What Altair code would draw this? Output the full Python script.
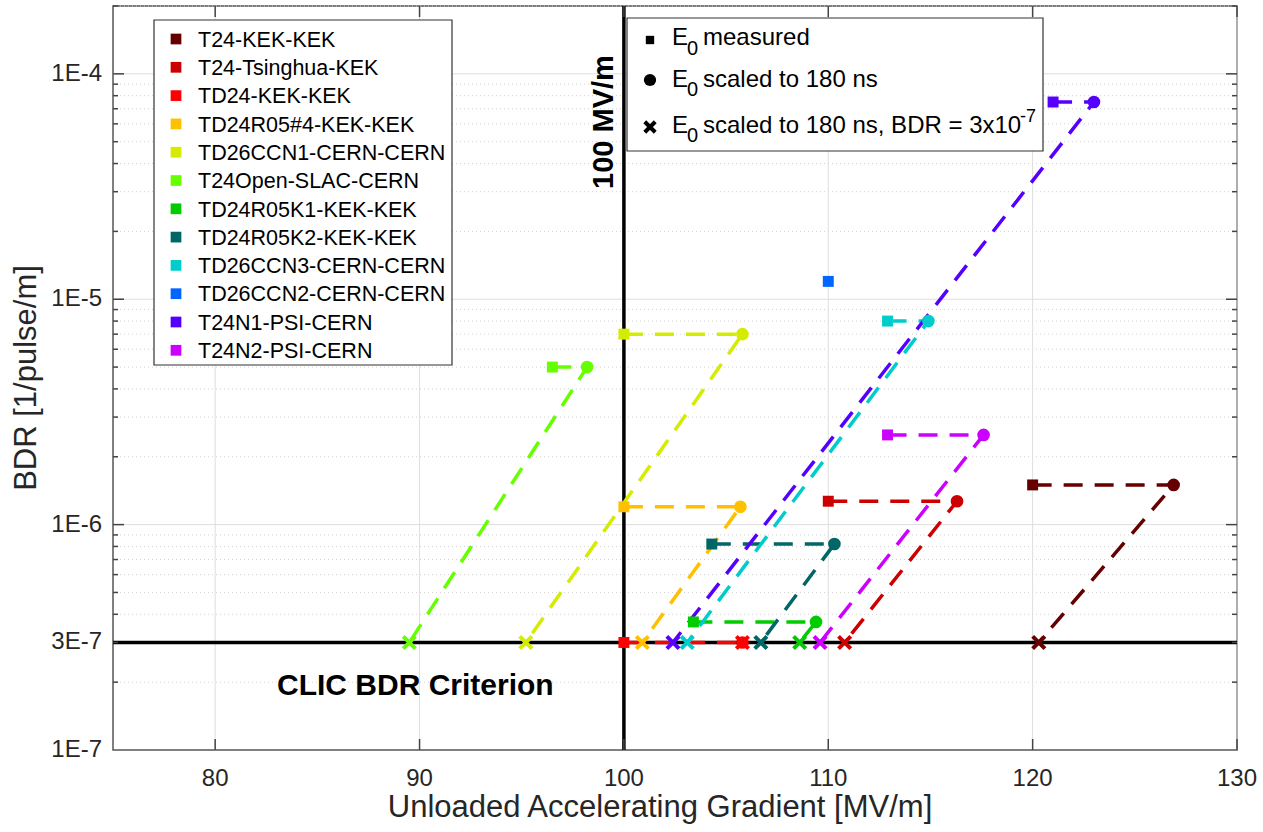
import altair as alt
import pandas as pd

# ---------------- data ----------------
series = ["T24-KEK-KEK", "T24-Tsinghua-KEK", "TD24-KEK-KEK", "TD24R05#4-KEK-KEK",
          "TD26CCN1-CERN-CERN", "T24Open-SLAC-CERN", "TD24R05K1-KEK-KEK",
          "TD24R05K2-KEK-KEK", "TD26CCN3-CERN-CERN", "TD26CCN2-CERN-CERN",
          "T24N1-PSI-CERN", "T24N2-PSI-CERN"]
colors = ["#660000", "#cc0000", "#ff0000", "#ffc000", "#d4ec00", "#66ff00",
          "#00cc00", "#006666", "#00cccc", "#0066ff", "#5500ff", "#cc00ff"]
measured_e0 = [120.0, 110.0, 100.0, 100.0, 100.0, 96.5, 103.4, 104.3, 112.9, 110.0, 121.0, 112.9]
measured_bdr = [1.5e-6, 1.27e-6, 3e-7, 1.2e-6, 7e-6, 5e-6, 3.7e-7, 8.2e-7, 8e-6, 1.2e-5, 7.5e-5, 2.5e-6]
scaled_e0 = [126.9, 116.3, 105.8, 105.7, 105.8, 98.2, 109.4, 110.3, 114.9, None, 123.0, 117.6]
criterion_e0 = [120.3, 110.8, 105.8, 100.9, 95.2, 89.5, 108.6, 106.7, 103.1, None, 102.4, 109.6]
bdr_criterion = 3e-7
gradient_ref = 100

x_ticks = [80, 90, 100, 110, 120, 130]
x_tick_labels = ["80", "90", "100", "110", "120", "130"]
y_ticks = [1e-7, 3e-7, 1e-6, 1e-5, 1e-4]
y_tick_labels = ["1E-7", "3E-7", "1E-6", "1E-5", "1E-4"]
y_major = [1e-6, 1e-5, 1e-4]
y_minor = [2e-7, 3e-7, 4e-7, 5e-7, 6e-7, 7e-7, 8e-7, 9e-7,
           2e-6, 3e-6, 4e-6, 5e-6, 6e-6, 7e-6, 8e-6, 9e-6,
           2e-5, 3e-5, 4e-5, 5e-5, 6e-5, 7e-5, 8e-5, 9e-5, 2e-4]
x_title = "Unloaded Accelerating Gradient [MV/m]"
y_title = "BDR [1/pulse/m]"

# ---------------- tables ----------------
meas_df = pd.DataFrame({"series": series, "e0": measured_e0, "bdr": measured_bdr})
scaled_rows, crit_rows, line_rows = [], [], []
for s, me, mb, se, ce in zip(series, measured_e0, measured_bdr, scaled_e0, criterion_e0):
    if se is None:
        continue
    scaled_rows.append({"series": s, "e0": se, "bdr": mb})
    crit_rows.append({"series": s, "e0": ce, "bdr": bdr_criterion})
    line_rows += [{"series": s, "e0": me, "bdr": mb, "o": 0},
                  {"series": s, "e0": se, "bdr": mb, "o": 1},
                  {"series": s, "e0": ce, "bdr": bdr_criterion, "o": 2}]
scaled_df = pd.DataFrame(scaled_rows)
crit_df = pd.DataFrame(crit_rows)
line_df = pd.DataFrame(line_rows)

W, H = 1124, 744
FONT = "Liberation Sans"
AX = "#262626"

xscale = alt.Scale(domain=[75, 130], nice=False, zero=False)
yscale = alt.Scale(type="log", domain=[1e-7, 2e-4], nice=False)
cscale = alt.Scale(domain=series, range=colors)


def X(field="e0"):
    return alt.X(f"{field}:Q", scale=xscale, axis=None)


def Y(field="bdr"):
    return alt.Y(f"{field}:Q", scale=yscale, axis=None)


def C():
    return alt.Color("series:N", scale=cscale, legend=None)


one = pd.DataFrame({"a": [0]})
xt_df = pd.DataFrame({"e0": x_ticks, "label": x_tick_labels})
yt_df = pd.DataFrame({"bdr": y_ticks, "label": y_tick_labels})
ymaj_df = pd.DataFrame({"bdr": y_major})
ymin_df = pd.DataFrame({"bdr": y_minor})

# grid
minor_grid = alt.Chart(ymin_df).mark_rule(color="#d0d0d0", strokeWidth=1, strokeDash=[1, 3]).encode(y=Y())
major_grid = alt.Chart(ymaj_df).mark_rule(color="#dedede", strokeWidth=1).encode(y=Y())
x_grid = alt.Chart(xt_df).mark_rule(color="#dedede", strokeWidth=1).encode(x=X())

# inner ticks (MATLAB style)
tc = "#444444"
ticks = [
    alt.Chart(ymaj_df).mark_rule(color=tc, strokeWidth=1.5).encode(y=Y(), x=alt.value(0), x2=alt.value(11)),
    alt.Chart(ymaj_df).mark_rule(color=tc, strokeWidth=1.5).encode(y=Y(), x=alt.value(W - 11), x2=alt.value(W)),
    alt.Chart(ymin_df).mark_rule(color=tc, strokeWidth=1.5).encode(y=Y(), x=alt.value(0), x2=alt.value(5)),
    alt.Chart(ymin_df).mark_rule(color=tc, strokeWidth=1.5).encode(y=Y(), x=alt.value(W - 5), x2=alt.value(W)),
    alt.Chart(xt_df).mark_rule(color=tc, strokeWidth=1.5).encode(x=X(), y=alt.value(H - 11), y2=alt.value(H)),
    alt.Chart(xt_df).mark_rule(color=tc, strokeWidth=1.5).encode(x=X(), y=alt.value(0), y2=alt.value(11)),
]

# axis labels and titles (drawn through the scales)
y_labels = alt.Chart(yt_df).mark_text(font=FONT, fontSize=24, color=AX, align="right",
                                      baseline="middle").encode(
    y=Y(), x=alt.value(-11), text="label:N")
x_labels = alt.Chart(xt_df).mark_text(font=FONT, fontSize=24, color=AX, align="center",
                                      baseline="alphabetic").encode(
    x=X(), y=alt.value(H + 36), text="label:N")
x_title_mark = alt.Chart(one).mark_text(text=x_title, font=FONT, fontSize=31, color=AX,
                                        align="center", baseline="alphabetic").encode(
    x=alt.value(547), y=alt.value(H + 67))
y_title_mark = alt.Chart(one).mark_text(text=y_title, font=FONT, fontSize=31, color=AX, angle=270,
                                        align="center", baseline="middle").encode(
    x=alt.value(-86), y=alt.value(H / 2))

# legend boxes
box1 = alt.Chart(one).mark_rect(fill="white", stroke="#333333", strokeWidth=1.2).encode(
    x=alt.value(41), x2=alt.value(339), y=alt.value(14), y2=alt.value(359))
box2 = alt.Chart(one).mark_rect(fill="white", stroke="#333333", strokeWidth=1.2).encode(
    x=alt.value(514), x2=alt.value(930), y=alt.value(12), y2=alt.value(145))

# reference lines
vref = alt.Chart(pd.DataFrame({"e0": [gradient_ref]})).mark_rule(color="black", strokeWidth=3.5).encode(x=X())
href = alt.Chart(pd.DataFrame({"bdr": [bdr_criterion]})).mark_rule(color="black", strokeWidth=3.5).encode(y=Y())

# data
lines = alt.Chart(line_df).mark_line(strokeWidth=3.5, strokeDash=[19, 12]).encode(
    x=X(), y=Y(), detail="series:N", order="o:Q", color=C())
squares = alt.Chart(meas_df).mark_point(shape="square", filled=True, size=120, opacity=1).encode(
    x=X(), y=Y(), color=C())
circles = alt.Chart(scaled_df).mark_circle(size=160, opacity=1).encode(
    x=X(), y=Y(), color=C())
XPATH = "M-1,-1L1,1M1,-1L-1,1"
crosses = alt.Chart(crit_df).mark_point(shape=XPATH, filled=False, size=150, strokeWidth=4,
                                        opacity=1).encode(x=X(), y=Y(), color=C())


def txt(s, x, y, size=24, weight="normal", angle=0, align="left", baseline="alphabetic",
        color="black"):
    return alt.Chart(one).mark_text(text=s, font=FONT, fontSize=size, fontWeight=weight,
                                    angle=angle, align=align, baseline=baseline,
                                    color=color).encode(x=alt.value(x), y=alt.value(y))


# legend 1 (series)
legend1 = []
for i, (s, c) in enumerate(zip(series, colors)):
    cy = 33 + i * 28.3
    legend1.append(alt.Chart(one).mark_point(shape="square", filled=True, size=115, color=c,
                                             opacity=1).encode(x=alt.value(63), y=alt.value(cy)))
    legend1.append(txt(s, 85, cy + 7.7, size=21.5))

# legend 2 (marker meaning)
lg_sq = alt.Chart(one).mark_point(shape="square", filled=True, size=70, color="black", opacity=1).encode(
    x=alt.value(537), y=alt.value(34))
lg_ci = alt.Chart(one).mark_point(shape="circle", filled=True, size=150, color="black", opacity=1).encode(
    x=alt.value(537), y=alt.value(74))
lg_x = alt.Chart(one).mark_point(shape=XPATH, filled=False, size=110, strokeWidth=4, color="black",
                                 opacity=1).encode(x=alt.value(537), y=alt.value(121))
legend2 = [
    lg_sq, lg_ci, lg_x,
    txt("E", 559, 39), txt("0", 574, 49, size=20), txt("measured", 590, 39),
    txt("E", 559, 81), txt("0", 574, 90, size=20), txt("scaled to 180 ns", 590, 81),
    txt("E", 559, 127), txt("0", 574, 136, size=20),
    txt("scaled to 180 ns, BDR = 3x10", 590, 127), txt("-7", 907, 116, size=18),
]

annot = [
    txt("100 MV/m", 491, 116, size=29, weight="bold", angle=270, align="center", baseline="middle"),
    txt("CLIC BDR Criterion", 164, 689, size=30, weight="bold"),
]

chart = alt.layer(
    minor_grid, major_grid, x_grid, box1, box2, vref, href, *ticks,
    lines, squares, circles, crosses, *legend1, *legend2, *annot,
    y_labels, x_labels, x_title_mark, y_title_mark
).properties(
    width=W, height=H,
    padding={"left": 113, "top": 6, "right": 26, "bottom": 82},
    autosize=alt.AutoSizeParams(type="none"),
    background="white",
).configure_view(
    stroke="#555555", strokeWidth=1.5
)

chart.save("out.html", embed_options={"renderer": "svg", "actions": False})
